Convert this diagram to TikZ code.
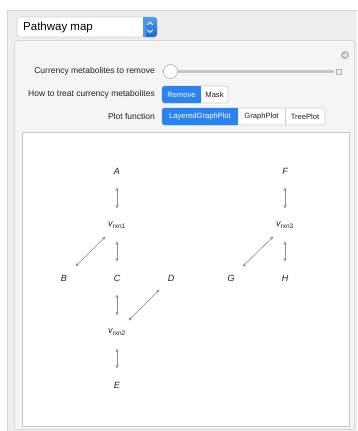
\documentclass[tikz,border=0pt]{standalone}
\usepackage{fontspec}
\setmainfont{Liberation Sans}
\usetikzlibrary{arrows.meta}
\definecolor{outerbg}{HTML}{EEEEEE}
\definecolor{panelbg}{HTML}{F5F5F5}
\definecolor{edgegray}{HTML}{D6D6D6}
\definecolor{uiblue}{HTML}{2A84F0}
\definecolor{uibluedark}{HTML}{1468DA}
\definecolor{btnborder}{HTML}{CFCFCF}
\definecolor{arrowgray}{HTML}{8A8A8A}
\definecolor{txt}{HTML}{222222}
\tikzset{
  uilabel/.style={anchor=east,font=\fontsize{8.5}{10}\selectfont,text=txt,inner sep=0pt},
  btntext/.style={font=\fontsize{7.6}{9}\selectfont,inner sep=0pt,text=txt},
  gnode/.style={font=\fontsize{9}{10}\selectfont\itshape,text=txt,inner sep=1pt},
  rx/.style={draw=arrowgray,line width=0.6pt,{Stealth[length=3.6pt,width=3.2pt]}-{Stealth[length=3.6pt,width=3.2pt]},shorten <=16.5pt,shorten >=16.5pt},
}
\newcommand{\vr}[1]{\textit{v}\textsubscript{\normalfont\fontsize{6.5}{7}\selectfont rxn#1}}
\begin{document}
\begin{tikzpicture}[x=1pt,y=-1pt]
\useasboundingbox (0,0) rectangle (357,431);
% backgrounds
\fill[white] (0,0) rectangle (357,431);
\fill[outerbg] (7,10) rectangle (357,431);
\draw[edgegray,line width=0.5pt] (7.5,10) -- (7.5,431);
\draw[edgegray,line width=0.5pt] (7,10.5) -- (357,10.5);
\draw[edgegray,fill=panelbg,rounded corners=3pt,line width=0.6pt] (14.5,40.5) rectangle (354.5,429.5);
% dropdown
\draw[btnborder,fill=white,rounded corners=3pt,line width=0.6pt] (17,17) rectangle (157,37);
\shade[top color=uiblue!80!white,bottom color=uibluedark,rounded corners=3pt] (143,17) rectangle (157,37);
\fill[uiblue!85!white] (143,17) rectangle (146,37);
\node[anchor=west,font=\fontsize{11.5}{13}\selectfont,text=black,inner sep=0pt] (title) at (23,27.5) {Pathway map};
\draw[white,line width=0.8pt,line cap=round,line join=round] (147.5,24.5) -- (150,22) -- (152.5,24.5);
\draw[white,line width=0.8pt,line cap=round,line join=round] (147.5,30) -- (150,32.5) -- (152.5,30);
% plus circle
\fill[black!25] (345,55) circle (4.2);
\draw[white,line width=0.9pt] (342.6,55) -- (347.4,55) (345,52.6) -- (345,57.4);
% row 1: slider
\node[uilabel] (lab1) at (155,71.5) {Currency metabolites to remove};
\draw[black!22,line width=2.4pt,line cap=round] (163,71.5) -- (333,71.5);
\draw[black!30,fill=white,line width=0.6pt] (170.5,71.5) circle (7);
\draw[black!30,fill=black!8,line width=0.5pt] (336.5,69) rectangle (341.5,74);
\draw[white,line width=0.6pt] (337.5,71.5) -- (340.5,71.5) (339,70) -- (339,73);
% row 2: remove / mask
\node[uilabel] (lab2) at (155,94.5) {How to treat currency metabolites};
\draw[btnborder,fill=white,rounded corners=2.5pt,line width=0.6pt] (162,86) rectangle (228,103);
\fill[uiblue,rounded corners=2.5pt] (162,86) rectangle (201,103);
\fill[uiblue] (196,86) rectangle (201,103);
\node[btntext,text=white] (bremove) at (181.5,94.5) {Remove};
\node[btntext] (bmask) at (214.5,94.5) {Mask};
% row 3: plot function
\node[uilabel] (lab3) at (155,116.5) {Plot function};
\draw[btnborder,fill=white,rounded corners=2.5pt,line width=0.6pt] (162,108) rectangle (325,125);
\fill[uiblue,rounded corners=2.5pt] (162,108) rectangle (238,125);
\fill[uiblue] (232,108) rectangle (238,125);
\draw[btnborder,line width=0.6pt] (285,108) -- (285,125);
\node[btntext,text=white] (blayered) at (200,116.5) {LayeredGraphPlot};
\node[btntext] (bgraph) at (261.5,116.5) {GraphPlot};
\node[btntext] (btree) at (305,116.5) {TreePlot};
% plot frame
\draw[black!22,fill=white,line width=0.7pt] (22,132) rectangle (349.5,426);
% graph
\node[gnode] (A) at (117,171) {A};
\node[gnode] (v1) at (117,225) {\vr{1}};
\node[gnode] (B) at (64,278) {B};
\node[gnode] (C) at (117,278) {C};
\node[gnode] (D) at (171,278) {D};
\node[gnode] (v2) at (117,332) {\vr{2}};
\node[gnode] (E) at (117,385) {E};
\node[gnode] (F) at (285,171) {F};
\node[gnode] (v3) at (285,225) {\vr{3}};
\node[gnode] (G) at (231,278) {G};
\node[gnode] (H) at (285,278) {H};
\draw[rx] (A.center) -- (v1.center);
\draw[rx] (v1.center) -- (B.center);
\draw[rx] (v1.center) -- (C.center);
\draw[rx] (C.center) -- (v2.center);
\draw[rx] (D.center) -- (v2.center);
\draw[rx] (v2.center) -- (E.center);
\draw[rx] (F.center) -- (v3.center);
\draw[rx] (v3.center) -- (G.center);
\draw[rx] (v3.center) -- (H.center);
\end{tikzpicture}
\end{document}
